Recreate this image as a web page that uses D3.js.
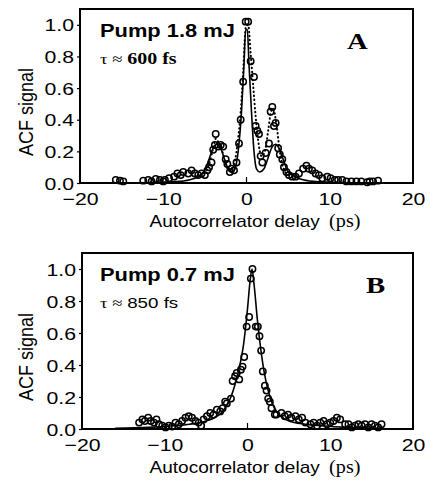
<!DOCTYPE html>
<html>
<head>
<meta charset="utf-8">
<script src="https://cdn.jsdelivr.net/npm/d3@7"></script>
<style>
  body { margin: 0; background: #fff; }
  svg { display: block; }
  .sans { font-family: "Liberation Sans", Arial, sans-serif; }
  .serif { font-family: "Liberation Serif", "Times New Roman", serif; }
</style>
</head>
<body>
<svg width="430" height="487"></svg>
<script>
// ---- data ----
var xTicks = [-20, -10, 0, 10, 20];
var yTicks = [0, 0.2, 0.4, 0.6, 0.8, 1.0];

// panel A, pump 1.8 mJ
var aDelay = [-15.7,-15.2,-14.8,-12.4,-11.8,-11.4,-10.9,-10.4,-10.0,-9.8,-9.3,-8.7,-8.3,-7.9,-7.6,-7.0,-6.6,-6.2,-5.8,-5.4,-5.0,-4.7,-4.5,-4.2,-4.0,-3.8,-3.7,-3.4,-3.1,-2.8,-2.5,-2.3,-2.0,-1.8,-1.5,-1.2,-0.9,-0.7,-0.4,-0.1,0.2,0.5,0.9,1.1,1.3,1.5,1.7,1.9,2.3,2.7,2.9,3.1,3.3,3.5,3.8,4.0,4.3,4.5,4.8,5.1,5.5,5.9,6.3,6.8,7.2,7.5,7.9,8.3,8.7,9.1,9.7,10.1,10.6,11.0,11.5,12.0,12.6,13.2,13.8,14.5,14.8,15.2,15.8];
var aSignal = [0.02,0.015,0.01,0.015,0.02,0.01,0.025,0.02,0.01,0.02,0.03,0.04,0.06,0.05,0.07,0.06,0.08,0.06,0.05,0.06,0.05,0.08,0.10,0.13,0.21,0.24,0.31,0.23,0.24,0.23,0.15,0.12,0.07,0.09,0.08,0.13,0.25,0.40,0.64,1.02,1.02,0.77,0.67,0.36,0.33,0.31,0.17,0.13,0.19,0.25,0.45,0.48,0.36,0.38,0.22,0.18,0.15,0.1,0.07,0.05,0.04,0.04,0.06,0.09,0.11,0.09,0.08,0.06,0.05,0.03,0.04,0.03,0.02,0.02,0.02,0.01,0.01,0.01,0.01,0.005,0.01,0.01,0.015];
var aFitX = [-17,-10,-8,-6.5,-5.5,-5,-4.5,-4,-3.6,-3.2,-2.7,-2.2,-1.8,-1.4,-1.0,-0.6,-0.3,-0.1,0.1,0.3,0.6,0.9,1.2,1.6,2.1,2.6,3.1,3.5,3.9,4.4,4.9,5.5,6.5,8,10,17];
var aFitY = [0,0.005,0.01,0.025,0.05,0.08,0.15,0.22,0.245,0.23,0.16,0.09,0.07,0.09,0.2,0.45,0.75,0.97,0.97,0.75,0.45,0.2,0.09,0.07,0.09,0.16,0.23,0.245,0.22,0.15,0.08,0.05,0.025,0.01,0.005,0];
var aDotX = [-5.5,-5,-4.5,-4,-3.7,-3.3,-2.9,-2.5,-2.1,-1.6,-1.1,-0.7,-0.4,-0.1,0.2,0.5,0.8,1.1,1.4,1.8,2.2,2.6,2.9,3.2,3.6,4.0,4.4,5.0];
var aDotY = [0.05,0.07,0.12,0.22,0.28,0.25,0.2,0.12,0.08,0.1,0.24,0.45,0.7,0.98,1.0,0.82,0.62,0.42,0.27,0.17,0.2,0.33,0.44,0.47,0.37,0.2,0.1,0.05];

// panel B, pump 0.7 mJ
var bDelay = [-13.1,-12.7,-12.4,-12.0,-11.7,-11.3,-11.0,-10.7,-10.3,-9.9,-9.5,-9.1,-8.7,-8.3,-7.9,-7.5,-7.1,-6.7,-6.3,-5.9,-5.6,-5.3,-4.9,-4.5,-4.1,-3.7,-3.3,-3.0,-2.7,-2.5,-2.0,-1.8,-1.5,-1.3,-1.0,-0.8,-0.6,-0.4,-0.1,0.2,0.4,0.6,1.0,1.25,1.45,1.65,1.85,2.1,2.3,2.5,2.7,2.9,3.3,3.5,4.1,4.5,4.9,5.3,5.8,6.2,6.6,7.0,7.6,8.0,8.4,8.8,9.2,9.6,10.0,10.4,10.8,11.2,11.8,12.2,12.6,13.0,13.4,13.8,14.2,14.6,15.0,15.4,15.8,16.2];
var bSignal = [0.04,0.06,0.05,0.07,0.05,0.04,0.06,0.03,0.02,0.01,0.02,0.015,0.04,0.03,0.05,0.07,0.08,0.07,0.05,0.04,0.02,0.06,0.08,0.1,0.09,0.12,0.11,0.13,0.17,0.16,0.19,0.3,0.33,0.35,0.31,0.37,0.39,0.45,0.64,0.7,0.94,1.0,0.64,0.64,0.58,0.49,0.36,0.27,0.24,0.19,0.17,0.13,0.09,0.09,0.1,0.08,0.09,0.07,0.08,0.06,0.07,0.04,0.03,0.04,0.02,0.04,0.05,0.03,0.04,0.05,0.07,0.06,0.03,0.03,0.01,0.02,0.03,0.02,0.03,0.01,0.03,0.02,0.01,0.03];
var bFitX = [-16,-12,-9,-7,-5,-4,-3,-2,-1.5,-1,-0.5,0,0.3,0.55,0.8,1.2,1.6,2,2.5,3,3.5,4,5,7,9,12,16];
var bFitY = [0.005,0.01,0.02,0.03,0.05,0.07,0.11,0.2,0.28,0.38,0.52,0.75,0.92,1.0,0.9,0.68,0.5,0.36,0.24,0.16,0.11,0.08,0.05,0.03,0.02,0.01,0.005];

var panels = [
  { box: { top: 9, bottom: 183, left: 80, right: 413 },
    delay: aDelay, signal: aSignal, fitX: aFitX, fitY: aFitY, dotX: aDotX, dotY: aDotY,
    pump: "Pump 1.8 mJ", tau: "600 fs", tauBold: true, letter: "A", letterX: 347 },
  { box: { top: 253, bottom: 429, left: 82, right: 413 },
    delay: bDelay, signal: bSignal, fitX: bFitX, fitY: bFitY,
    pump: "Pump 0.7 mJ", tau: "850 fs", tauBold: false, letter: "B", letterX: 366 }
];

var svg = d3.select("svg");
var SX = 1.25; // the scan is stretched sideways, text too

panels.forEach(drawPanel);

function drawPanel(p) {
  var b = p.box;
  var x = d3.scaleLinear().domain([-20, 20]).range([b.left, b.right]);
  var y = d3.scaleLinear().domain([0, 1.1]).range([b.bottom, b.top]);
  var g = svg.append("g");

  // frame
  g.append("rect")
    .attr("x", b.left).attr("y", b.top)
    .attr("width", b.right - b.left).attr("height", b.bottom - b.top)
    .attr("fill", "none").attr("stroke", "#000").attr("stroke-width", 2);

  // small tick at zero, pointing up
  g.append("line")
    .attr("x1", x(0)).attr("x2", x(0))
    .attr("y1", b.bottom).attr("y2", b.bottom - 6)
    .attr("stroke", "#000").attr("stroke-width", 1.2);

  var xAxis = g.append("g")
    .attr("transform", "translate(0," + b.bottom + ")")
    .call(d3.axisBottom(x).tickValues(xTicks).tickSize(0).tickPadding(0));
  xAxis.select(".domain").remove();
  xAxis.selectAll("text")
    .attr("class", "sans").attr("font-size", 17).attr("fill", "#000")
    .attr("y", 22).attr("dy", 0)
    .attr("transform", "scale(" + SX + ",1)");

  var yAxis = g.append("g")
    .attr("transform", "translate(" + b.left + ",0)")
    .call(d3.axisLeft(y).tickValues(yTicks).tickSize(3).tickFormat(d3.format(".1f")));
  yAxis.select(".domain").remove();
  yAxis.selectAll("line").attr("stroke-width", 1.2);
  yAxis.selectAll("text")
    .attr("class", "sans").attr("font-size", 17).attr("fill", "#000")
    .attr("x", -6 / SX).attr("dy", "0.36em")
    .attr("transform", "scale(" + SX + ",1)");

  // axis titles
  var xt = g.append("text")
    .attr("transform", "translate(255," + (b.bottom + 44) + ") scale(1.12,1)")
    .attr("text-anchor", "middle").attr("font-size", 17);
  xt.append("tspan").attr("class", "sans").text("Autocorrelator delay ");
  xt.append("tspan").attr("class", "serif").attr("font-size", 18).text("\u2009(ps)");

  g.append("text")
    .attr("class", "sans")
    .attr("transform", "translate(33," + ((b.top + b.bottom) / 2 + 16) + ") rotate(-90) scale(1,1.15)")
    .attr("text-anchor", "middle").attr("font-size", 18)
    .text("ACF signal");

  // labels inside
  g.append("text")
    .attr("class", "sans")
    .attr("transform", "translate(100," + (b.top + 28) + ") scale(" + SX + ",1)")
    .attr("font-size", 17.5).attr("font-weight", "bold")
    .text(p.pump);

  var tt = g.append("text")
    .attr("transform", "translate(100," + (b.top + 55) + ") scale(" + SX + ",1)")
    .attr("font-size", 15);
  tt.append("tspan").attr("class", "serif").text("\u03c4 \u2248 ");
  tt.append("tspan").attr("class", p.tauBold ? "serif" : "sans")
    .attr("font-weight", p.tauBold ? "bold" : "normal")
    .attr("font-size", p.tauBold ? 16 : 15)
    .text(p.tau);

  g.append("text")
    .attr("class", "serif")
    .attr("transform", "translate(" + p.letterX + "," + (b.top + 40) + ") scale(" + SX + ",1)")
    .attr("font-size", 23).attr("font-weight", "bold")
    .text(p.letter);

  // curves
  var line = d3.line()
    .x(function(d) { return x(d[0]); })
    .y(function(d) { return y(d[1]); })
    .curve(d3.curveMonotoneX);

  g.append("path")
    .datum(d3.zip(p.fitX, p.fitY))
    .attr("d", line)
    .attr("fill", "none").attr("stroke", "#000").attr("stroke-width", 1.6);

  if (p.dotX) {
    g.append("path")
      .datum(d3.zip(p.dotX, p.dotY))
      .attr("d", line)
      .attr("fill", "none").attr("stroke", "#000").attr("stroke-width", 2)
      .attr("stroke-linecap", "round")
      .attr("stroke-dasharray", "0.5,3.5");
  }

  g.append("g")
    .selectAll("circle")
    .data(d3.zip(p.delay, p.signal))
    .enter()
    .append("circle")
      .attr("cx", function(d) { return x(d[0]); })
      .attr("cy", function(d) { return y(d[1]); })
      .attr("r", 3.2)
      .attr("fill", "none")
      .attr("stroke", "#000")
      .attr("stroke-width", 1.5);
}
</script>
</body>
</html>
